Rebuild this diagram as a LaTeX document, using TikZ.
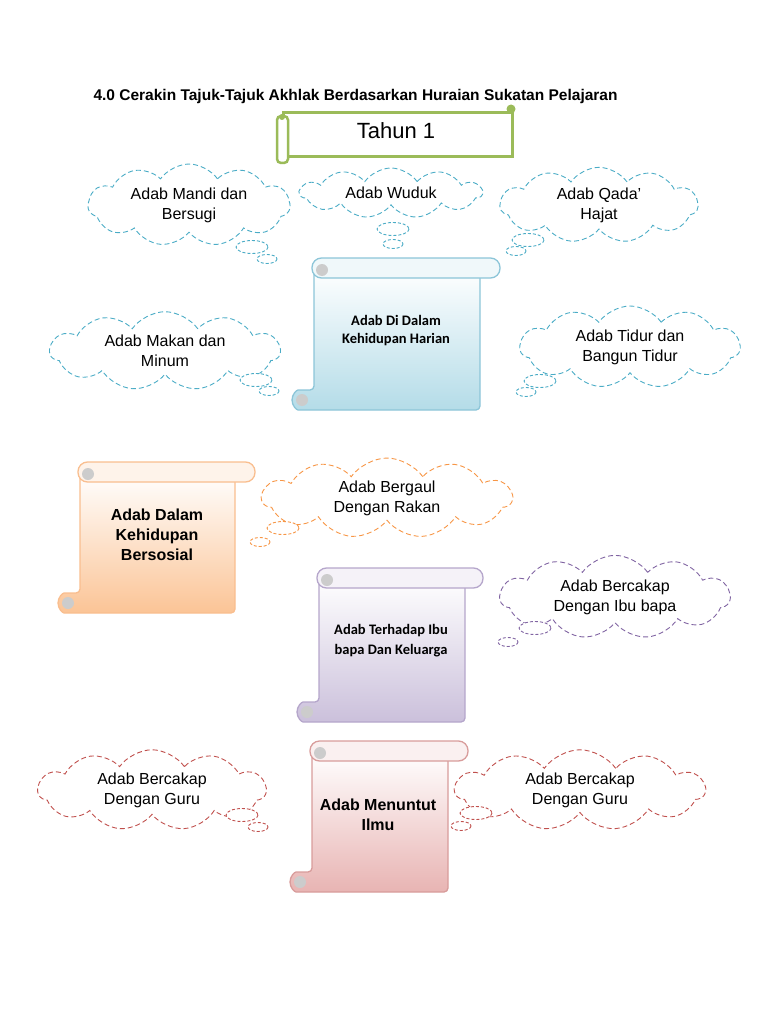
\documentclass[tikz,border=0pt]{standalone}
\usepackage{fontspec}
\setmainfont{Liberation Sans}
\newfontfamily\carlito{Carlito}
\usetikzlibrary{shapes.symbols}

\definecolor{accblue}{HTML}{4BACC6}
\definecolor{accorange}{HTML}{F79646}
\definecolor{accpurple}{HTML}{8064A2}
\definecolor{accred}{HTML}{C0504D}
\definecolor{accgreen}{HTML}{9BBB59}
\definecolor{lineblue}{HTML}{8CC5D8}
\definecolor{fillblue}{HTML}{B4DCE8}
\definecolor{lineorange}{HTML}{F9BE8F}
\definecolor{fillorange}{HTML}{FBC496}
\definecolor{linepurple}{HTML}{B5A6CB}
\definecolor{fillpurple}{HTML}{CBC0DB}
\definecolor{linered}{HTML}{D89C9B}
\definecolor{fillred}{HTML}{E8B4B3}

\begin{document}
\begin{tikzpicture}[x=1pt,y=-1pt,
    thought/.style={cloud,cloud puffs=11,cloud puff arc=110,cloud ignores aspect,draw,dash pattern=on 5pt off 3pt,line width=.9pt,align=center,text=black,font=\fontsize{16}{20}\selectfont},
    puff/.style={dash pattern=on 3pt off 2pt,line width=.9pt},
    scrolltext/.style={align=center,font=\bfseries\fontsize{16}{20}\selectfont}]
    \useasboundingbox (0,0) rectangle (768,1024);

    \node[anchor=base west,font=\bfseries\fontsize{15.5}{18}\selectfont] (title) at (90,101) {4.0 Cerakin Tajuk-Tajuk Akhlak Berdasarkan Huraian Sukatan Pelajaran};

    % tahun 1 banner
    \draw[accgreen,line width=3pt,fill=white] (283,113) rectangle (512,157);
    \draw[accgreen,line width=2.5pt,fill=white,rounded corners=4pt] (277,116) rectangle (288,163);
    \fill[accgreen] (511,109) circle (4.5);
    \fill[accgreen] (282,117) circle (3);
    \node[font=\fontsize{22}{26}\selectfont] (tahun) at (396,131) {Tahun 1};

    % scrolls
    \foreach \xa/\ya/\xb/\xc/\yb/\bc/\fc in {312/258/500/480/410/lineblue/fillblue,78/462/255/235/613/lineorange/fillorange,317/568/483/465/722/linepurple/fillpurple,310/741/468/448/892/linered/fillred}{
      \draw[\bc,line width=1.3pt,top color=white,bottom color=\fc,rounded corners=4pt]
        (\xa+2,\ya+10) -- (\xc,\ya+10) -- (\xc,\yb) -- (\xa-10,\yb) arc (90:270:10) -- (\xa+2,\yb-20) -- cycle;
      \fill[gray!40] (\xa-10,\yb-10) circle (6);
      \draw[\bc,line width=1.3pt,fill=\fc!20,rounded corners=9.5pt] (\xa,\ya) rectangle (\xb,\ya+20);
      \fill[gray!40] (\xa+10,\ya+12) circle (6);
    }
    \node[scrolltext,font=\carlito\bfseries\fontsize{14.5}{18}\selectfont] (harian) at (396,331) {Adab Di Dalam\\Kehidupan Harian};
    \node[scrolltext] (sosial) at (157,535) {Adab Dalam\\Kehidupan\\Bersosial};
    \node[scrolltext,font=\carlito\bfseries\fontsize{14.5}{20}\selectfont] (keluarga) at (391,641) {Adab Terhadap Ibu\\bapa Dan Keluarga};
    \node[scrolltext] (ilmu) at (378,815) {Adab Menuntut\\Ilmu};

    % thought clouds and their puffs
    \foreach \n/\x/\y/\w/\h/\ax/\ay/\bx/\by/\cc/\txt in {mandi/189/205/202/76/252/247/267/259/accblue/{Adab Mandi dan\\Bersugi},wuduk/391/193/182/50/393/229/393/244/accblue/{Adab Wuduk},qada/599/205/198/68/528/240/516/251/accblue/{Adab Qada’\\Hajat},makan/165/351/230/72/256/380/269/391/accblue/{Adab Makan dan\\Minum},tidur/630/347/220/82/540/381/526/392/accblue/{Adab Tidur dan\\Bangun Tidur},bergaul/387/498/250/75/283/528/260/542/accorange/{Adab Bergaul\\Dengan Rakan},ibubapa/615/597/230/67/535/628/508/642/accpurple/{Adab Bercakap\\Dengan Ibu bapa},guruL/152/790/228/72/242/815/258/827/accred/{Adab Bercakap\\Dengan Guru},guruR/580/790/250/72/476/813/461/826/accred/{Adab Bercakap\\Dengan Guru}}{
      \node[thought,draw=\cc,minimum width=\w pt,minimum height=\h pt] (\n) at (\x,\y) {\txt};
      \draw[puff,\cc,fill=white] (\ax,\ay) ellipse (16 and 6.5);
      \draw[puff,\cc,fill=white] (\bx,\by) ellipse (10 and 4.5);
    }
\end{tikzpicture}
\end{document}
